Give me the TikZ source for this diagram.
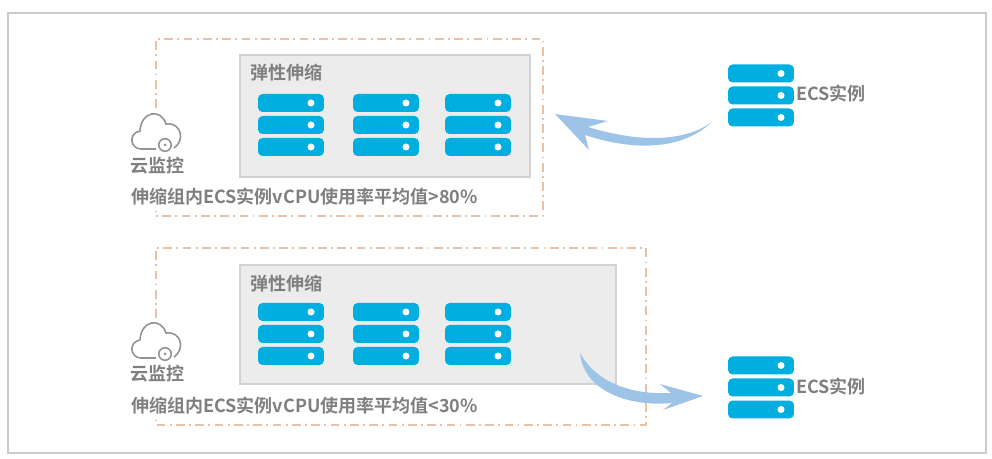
\documentclass[tikz,border=0pt]{standalone}
\usepackage{fontspec}
\setmainfont{Noto Sans CJK SC}[BoldFont={Noto Sans CJK SC Bold}]
\definecolor{rackblue}{HTML}{00AEDF}
\definecolor{flowblue}{HTML}{9DC3E6}
\definecolor{dashorange}{HTML}{EBC1A6}
\definecolor{labelgray}{HTML}{7F7F7F}
\tikzset{
  rackrow/.style={fill=rackblue,rounded corners=2.6pt,minimum width=1.32cm,minimum height=.36cm,inner sep=0pt},
  rackdot/.style={fill=white,circle,minimum size=.14cm,inner sep=0pt},
  rack/.pic={
    \node[rackrow] (-a) at (33,9) {};
    \node[rackrow] (-b) at (33,31) {};
    \node[rackrow] (-c) at (33,53) {};
    \node[rackdot] at (53,9) {};
    \node[rackdot] at (53,31) {};
    \node[rackdot] at (53,53) {};
  },
  monitor/.pic={
    \draw[draw=gray!85,line width=.9pt,fill=white] (24,35) -- (9,35)
      .. controls (-2,35) and (-4,19) .. (8,17)
      .. controls (9,-3) and (29,-6) .. (34,10)
      .. controls (50,8) and (53,27) .. (42,34);
    \node[circle,draw=gray!85,line width=.9pt,fill=white,minimum size=.25cm,inner sep=0pt] (-gear) at (33,31) {};
    \node[circle,fill=gray!85,minimum size=.06cm,inner sep=0pt] at (33,31) {};
  },
  groupbox/.style={draw=gray!35,fill=gray!15,line width=.7pt},
  outerline/.style={draw=dashorange,line width=.6pt,dash pattern=on 5pt off 2.5pt on 1pt off 2.5pt},
  caption/.style={text=labelgray,font=\fontsize{10.25pt}{12pt}\selectfont\bfseries,inner sep=0pt},
  flowfill/.style={fill=flowblue,draw=none}
}
\begin{document}
\begin{tikzpicture}[x=.02cm,y=-.02cm]
  \useasboundingbox (0,0) rectangle (992,459);
  \draw[draw=gray!40,line width=.7pt] (8,13) rectangle (986,453);
  % upper group
  \draw[outerline] (156,108) -- (156,39) -- (543,39) -- (543,216) -- (156,216) -- (156,211);
  \draw[groupbox] (240,55) rectangle (530,177);
  \node[caption,anchor=west] (titleA) at (250,73) {弹性伸缩};
  \pic (rackA) at (258,94) {rack};
  \pic (rackB) at (353,94) {rack};
  \pic (rackC) at (445,94) {rack};
  \pic (cloudA) at (132,114) {monitor};
  \node[caption,anchor=west] (cloudtextA) at (130,166) {云监控};
  \node[caption,anchor=west] (ruleA) at (131,197) {伸缩组内ECS实例vCPU使用率平均值>80\%};
  \pic (rackD) at (728,64.5) {rack};
  \node[caption,anchor=west] (ecsA) at (796,94) {ECS实例};
  \coordinate (tailA) at (712,122);
  \coordinate (tipA) at (555,114);
  \fill[flowfill] (tailA) .. controls (680,152) and (630,150) .. (585,135)
    -- (589,150) -- (tipA) -- (608,121) -- (588,127)
    .. controls (630,140) and (680,145) .. (tailA);
  % lower group
  \draw[outerline] (156,318) -- (156,248) -- (646,248) -- (646,425) -- (156,425) -- (156,420);
  \draw[groupbox] (240,265) rectangle (616,384);
  \node[caption,anchor=west] (titleB) at (250,284) {弹性伸缩};
  \pic (rackE) at (258,303) {rack};
  \pic (rackF) at (353,303) {rack};
  \pic (rackG) at (445,303) {rack};
  \pic (cloudB) at (132,323) {monitor};
  \node[caption,anchor=west] (cloudtextB) at (130,374) {云监控};
  \node[caption,anchor=west] (ruleB) at (131,406) {伸缩组内ECS实例vCPU使用率平均值<30\%};
  \pic (rackH) at (728,356.5) {rack};
  \node[caption,anchor=west] (ecsB) at (796,387) {ECS实例};
  \coordinate (tailB) at (580,353);
  \coordinate (tipB) at (703,396);
  \fill[flowfill] (tailB) .. controls (596,382) and (630,395) .. (671,393)
    -- (660,384) -- (tipB) -- (663,410) -- (672,403)
    .. controls (630,407) and (584,392) .. (tailB);
\end{tikzpicture}
\end{document}
